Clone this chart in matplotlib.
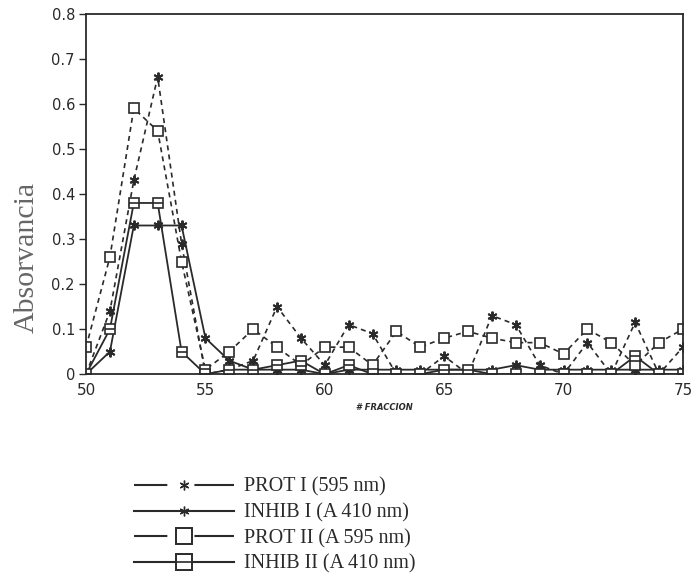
import matplotlib
matplotlib.use("Agg")
import matplotlib.pyplot as plt
from matplotlib.lines import Line2D
from matplotlib.legend_handler import HandlerTuple

fraccion = list(range(50, 76))

prot_1 = [0.00, 0.14, 0.43, 0.66, 0.29, 0.00, 0.01, 0.03, 0.15, 0.08, 0.02, 0.11, 0.09,
          0.00, 0.00, 0.04, 0.00, 0.13, 0.11, 0.02, 0.00, 0.07, 0.00, 0.115, 0.00, 0.06]
inhib_1 = [0.00, 0.05, 0.33, 0.33, 0.33, 0.08, 0.03, 0.01, 0.01, 0.01, 0.00, 0.01, 0.01,
           0.01, 0.01, 0.01, 0.01, 0.01, 0.02, 0.01, 0.01, 0.01, 0.01, 0.01, 0.01, 0.01]
prot_2 = [0.06, 0.26, 0.59, 0.54, 0.25, 0.01, 0.05, 0.10, 0.06, 0.02, 0.06, 0.06, 0.02,
          0.095, 0.06, 0.08, 0.095, 0.08, 0.07, 0.07, 0.045, 0.10, 0.07, 0.02, 0.07, 0.10]
inhib_2 = [0.00, 0.10, 0.38, 0.38, 0.05, 0.00, 0.01, 0.01, 0.02, 0.03, 0.00, 0.02, 0.00,
           0.00, 0.00, 0.01, 0.01, 0.00, 0.00, 0.00, 0.00, 0.00, 0.00, 0.04, 0.00, 0.00]

labels = ["PROT I (595 nm)", "INHIB I (A 410 nm)", "PROT II (A 595 nm)", "INHIB II (A 410 nm)"]
y_ticks = [0, 0.1, 0.2, 0.3, 0.4, 0.5, 0.6, 0.7, 0.8]
y_ticklabels = ["0", "0.1", "0.2", "0.3", "0.4", "0.5", "0.6", "0.7", "0.8"]
x_ticks = [50, 55, 60, 65, 70, 75]

ink = "#2a2a2a"
ast = (6, 2, 0)

fig = plt.figure(figsize=(6.94, 5.73), dpi=100)
ax = fig.add_axes([0.124, 0.347, 0.86, 0.629])

dash = (0, (3, 2.5))
ax.plot(fraccion, prot_1, color=ink, lw=1.2, ls=dash, marker=ast, ms=7, mew=1.4)
ax.plot(fraccion, inhib_1, color=ink, lw=1.3, ls="-", marker=ast, ms=7, mew=1.4)
ax.plot(fraccion, prot_2, color=ink, lw=1.2, ls=dash, marker="s", ms=7, mfc="white", mec=ink, mew=1.2)
ax.plot(fraccion, inhib_2, color=ink, lw=1.3, ls="-", marker="s", ms=7, mfc="white", mec=ink, mew=1.2)
ax.plot(fraccion, inhib_2, ls="none", marker="_", ms=7, mec=ink, mew=1.2)

ax.set_xlim(50, 75)
ax.set_ylim(0, 0.8)
ax.set_yticks(y_ticks)
ax.set_yticklabels(y_ticklabels)
ax.set_xticks(x_ticks)
ax.tick_params(axis="y", direction="out", length=5, width=1, labelsize=10.5, colors=ink, pad=3)
ax.tick_params(axis="x", direction="in", length=0, labelsize=11, colors=ink, pad=6)
for sp in ax.spines.values():
    sp.set_color(ink)
    sp.set_linewidth(1.3)

ax.set_ylabel("Absorvancia", family="Liberation Serif", fontsize=21.5, color="#666666")
ax.yaxis.set_label_coords(-0.077, 0.325)
ax.set_xlabel("# FRACCION", fontsize=6, fontweight="bold", style="italic", color=ink, labelpad=4)

# legend proxies
gap_ls = (0, (16, 13, 30, 10))
h1 = Line2D([], [], color=ink, lw=1.5, ls=gap_ls, marker=ast, ms=7, mew=1.0)
h2 = Line2D([], [], color=ink, lw=1.5, ls="-", marker=ast, ms=7, mew=1.0)
h3 = Line2D([], [], color=ink, lw=1.5, ls=gap_ls, marker="s", ms=11, mfc="white", mec=ink, mew=1.4)
h4a = Line2D([], [], color=ink, lw=1.5, ls="-", marker="s", ms=11, mfc="white", mec=ink, mew=1.4)
h4b = Line2D([], [], ls="none", marker="_", ms=11, mec=ink, mew=1.2)

fig.legend([h1, h2, h3, (h4a, h4b)], labels,
           handler_map={tuple: HandlerTuple(ndivide=1, pad=0)},
           loc="upper left", bbox_to_anchor=(0.178, 0.184),
           frameon=False, prop={"family": "Liberation Serif", "size": 14.5},
           handlelength=5.0, handletextpad=0.5, labelspacing=0.32, borderpad=0,
           labelcolor=ink)

fig.savefig("out.png", dpi=100)
